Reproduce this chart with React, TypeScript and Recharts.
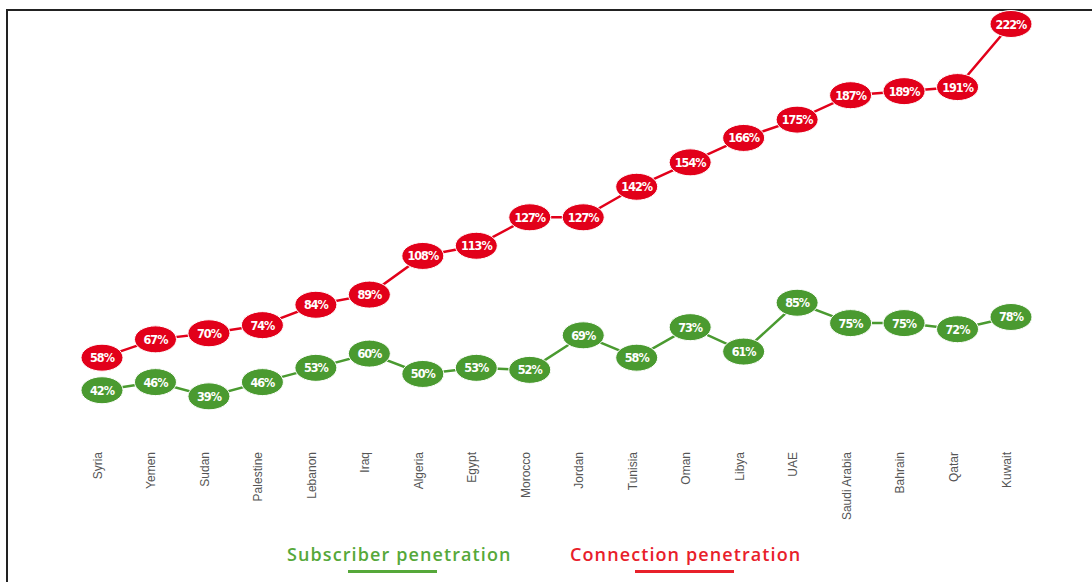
import React from "react";
import { LineChart, Line, XAxis, YAxis } from "recharts";

// Mobile penetration by country
const COUNTRIES = [
  "Syria", "Yemen", "Sudan", "Palestine", "Lebanon", "Iraq", "Algeria", "Egypt", "Morocco",
  "Jordan", "Tunisia", "Oman", "Libya", "UAE", "Saudi Arabia", "Bahrain", "Qatar", "Kuwait",
];
const CONNECTION = [58, 67, 70, 74, 84, 89, 108, 113, 127, 127, 142, 154, 166, 175, 187, 189, 191, 222];
const SUBSCRIBER = [42, 46, 39, 46, 53, 60, 50, 53, 52, 69, 58, 73, 61, 85, 75, 75, 72, 78];

const RED = "#e2001a";
const GREEN = "#4a9a30";

const data = COUNTRIES.map((country, i) => ({
  country,
  connection: CONNECTION[i],
  subscriber: SUBSCRIBER[i],
}));

const makeDot = (key: "connection" | "subscriber", color: string) => (props: any) => {
  const { cx, cy, payload, index } = props;
  if (cx == null || cy == null) return <g key={`${key}-${index}`} />;
  return (
    <g key={`${key}-${index}`}>
      <ellipse cx={cx} cy={cy} rx={21} ry={13.5} fill={color} stroke="#fff" strokeWidth={1} />
      <text
        x={cx}
        y={cy}
        dy={4.5}
        textAnchor="middle"
        fill="#fff"
        fontSize={12.5}
        fontWeight="bold"
        fontFamily="'DejaVu Sans Condensed', 'DejaVu Sans', sans-serif"
        letterSpacing={-1}
      >
        {payload[key]}%
      </text>
    </g>
  );
};

const CountryTick = (props: any) => {
  const { x, y, payload } = props;
  return (
    <text
      x={x}
      y={y + 13}
      dx={4}
      transform={`rotate(-90, ${x}, ${y + 13})`}
      textAnchor="end"
      fill="#555"
      fontSize={12}
      fontFamily="'Liberation Sans', Arial, sans-serif"
    >
      {payload.value}
    </text>
  );
};

const LegendItem = ({ label, color, left, lineLeft, lineWidth }: any) => (
  <>
    <div
      style={{
        position: "absolute",
        left,
        top: 542,
        color,
        fontSize: 18,
        fontWeight: 600,
        letterSpacing: 1.1,
        fontFamily: "'Open Sans', sans-serif",
        whiteSpace: "nowrap",
      }}
    >
      {label}
    </div>
    <div style={{ position: "absolute", left: lineLeft, top: 570, width: lineWidth, height: 3, background: color }} />
  </>
);

// fixed to the viewport so coordinates match the 1092x582 picture directly
const App = () => (
  <div style={{ position: "fixed", left: 0, top: 0, width: 1092, height: 582, background: "#fff" }}>
    <div style={{ position: "absolute", left: 6, top: 9, width: 2, height: 573, background: "#222" }} />
    <div style={{ position: "absolute", left: 6, top: 9, width: 1086, height: 2, background: "#222" }} />
    <div style={{ position: "absolute", left: 0, top: 0 }}>
      <LineChart width={1092} height={582} data={data} margin={{ top: 24, right: 81, left: 102, bottom: 47 }}>
        <XAxis
          dataKey="country"
          scale="point"
          padding={{ left: 0, right: 0 }}
          axisLine={false}
          tickLine={false}
          interval={0}
          height={100}
          tick={<CountryTick />}
        />
        <YAxis hide width={0} domain={[20, 222]} />
        <Line
          dataKey="subscriber"
          stroke={GREEN}
          strokeWidth={2.5}
          dot={makeDot("subscriber", GREEN)}
          activeDot={false}
          isAnimationActive={false}
        />
        <Line
          dataKey="connection"
          stroke={RED}
          strokeWidth={2.5}
          dot={makeDot("connection", RED)}
          activeDot={false}
          isAnimationActive={false}
        />
      </LineChart>
    </div>
    <LegendItem label="Subscriber penetration" color="#56a83a" left={287} lineLeft={348} lineWidth={89} />
    <LegendItem label="Connection penetration" color="#e8202a" left={570} lineLeft={635} lineWidth={99} />
  </div>
);

export default App;
